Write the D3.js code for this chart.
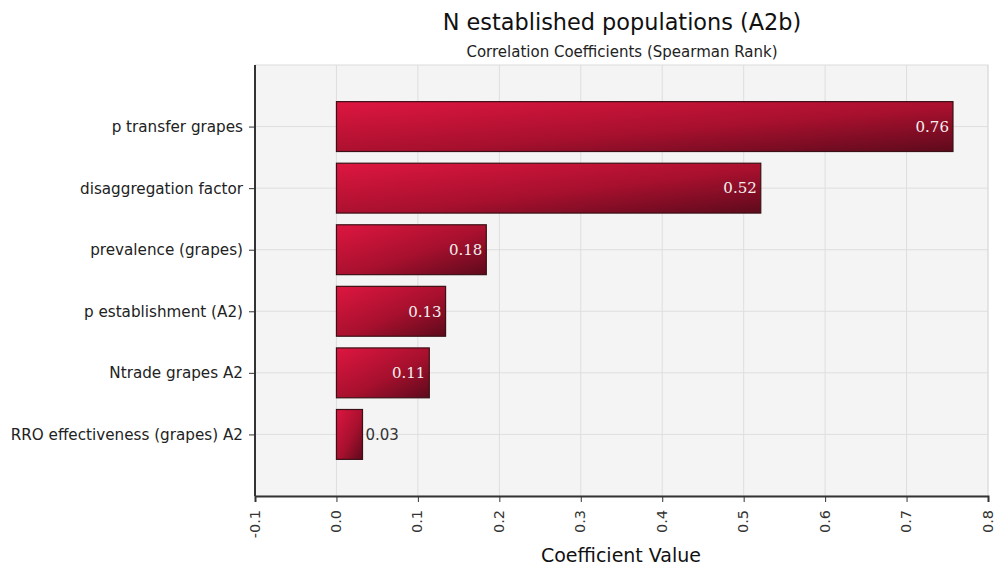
<!DOCTYPE html>
<html>
<head>
<meta charset="utf-8">
<script src="https://cdn.jsdelivr.net/npm/d3@7"></script>
<style>
  body { margin: 0; background: #fff; }
  svg { display: block; }
</style>
</head>
<body>
<svg width="995" height="568"></svg>
<script>
// chart data
var categories = [
    "p transfer grapes",
    "disaggregation factor",
    "prevalence (grapes)",
    "p establishment (A2)",
    "Ntrade grapes A2",
    "RRO effectiveness (grapes) A2"
];
var values = [0.757, 0.521, 0.184, 0.134, 0.114, 0.032];
var xTicks = [-0.1, 0.0, 0.1, 0.2, 0.3, 0.4, 0.5, 0.6, 0.7, 0.8];

var margin = { top: 65, right: 7, bottom: 72, left: 255 };
var width = 995, height = 568;
var sans = "DejaVu Sans, sans-serif";

var svg = d3.select("svg");

// scales
var x = d3.scaleLinear()
    .domain([-0.1, 0.8])
    .range([margin.left, width - margin.right]);

var y = d3.scalePoint()
    .domain(categories)
    .range([margin.top, height - margin.bottom])
    .padding(1);

var barH = y.step() * 0.81;

// gradient for bars
var defs = svg.append("defs");
var grad = defs.append("linearGradient")
    .attr("id", "barGrad")
    .attr("x1", "0").attr("y1", "0")
    .attr("x2", "1").attr("y2", "1");
grad.append("stop").attr("offset", "0%").attr("stop-color", "#de1640");
grad.append("stop").attr("offset", "55%").attr("stop-color", "#a8102e");
grad.append("stop").attr("offset", "100%").attr("stop-color", "#5e0a1c");

// plot background
svg.append("rect")
    .attr("x", margin.left)
    .attr("y", margin.top)
    .attr("width", width - margin.right - margin.left)
    .attr("height", height - margin.bottom - margin.top)
    .attr("fill", "#f4f4f4")
    .attr("stroke", "#dcdcdc");

// grid
svg.append("g")
    .selectAll("line")
    .data(xTicks)
    .enter()
    .append("line")
    .attr("x1", d => x(d)).attr("x2", d => x(d))
    .attr("y1", margin.top).attr("y2", height - margin.bottom)
    .attr("stroke", "#dedede");

svg.append("g")
    .selectAll("line")
    .data(categories)
    .enter()
    .append("line")
    .attr("x1", margin.left).attr("x2", width - margin.right)
    .attr("y1", d => y(d)).attr("y2", d => y(d))
    .attr("stroke", "#dedede");

// bars
svg.append("g")
    .selectAll("rect")
    .data(values)
    .enter()
    .append("rect")
    .attr("x", x(0))
    .attr("y", (d, i) => y(categories[i]) - barH / 2)
    .attr("width", d => x(d) - x(0))
    .attr("height", barH)
    .attr("fill", "url(#barGrad)")
    .attr("stroke", "#3b1016")
    .attr("stroke-width", 1.2);

// value labels
svg.append("g")
    .selectAll("text")
    .data(values)
    .enter()
    .append("text")
    .attr("x", d => d > 0.08 ? x(d) - 4 : x(d) + 3)
    .attr("y", (d, i) => y(categories[i]))
    .attr("dy", "0.35em")
    .attr("text-anchor", d => d > 0.08 ? "end" : "start")
    .attr("fill", d => d > 0.08 ? "#f4f0f0" : "#333")
    .attr("font-family", d => d > 0.08 ? "DejaVu Serif, serif" : sans)
    .attr("font-size", "15px")
    .text(d => d3.format(".2f")(d));

// x axis
var xAxis = svg.append("g")
    .attr("transform", "translate(0," + (height - margin.bottom) + ")")
    .call(d3.axisBottom(x).tickValues(xTicks)
        .tickFormat(d => d3.format(".1f")(d).replace("\u2212", "-"))
        .tickSizeOuter(0).tickSize(6));
xAxis.select(".domain").attr("stroke", "#333").attr("stroke-width", 2);
xAxis.selectAll(".tick line").attr("stroke", "#333");
xAxis.selectAll(".tick text")
    .attr("font-family", sans)
    .attr("font-size", "14.5px")
    .attr("fill", "#333")
    .attr("transform", "rotate(-90)")
    .attr("text-anchor", "end")
    .attr("x", -14)
    .attr("y", -1)
    .attr("dy", "0.35em");

// y axis
var yAxis = svg.append("g")
    .attr("transform", "translate(" + margin.left + ",0)")
    .call(d3.axisLeft(y).tickSizeOuter(0).tickSize(6).tickPadding(6));
yAxis.select(".domain").attr("stroke", "#333").attr("stroke-width", 2)
    .attr("d", "M0," + margin.top + "V" + (height - margin.bottom));
yAxis.selectAll(".tick line").attr("stroke", "#333");
yAxis.selectAll(".tick text")
    .attr("font-family", sans)
    .attr("font-size", "15.2px")
    .attr("fill", "#222");

// titles
svg.append("text")
    .attr("x", 622).attr("y", 30)
    .attr("text-anchor", "middle")
    .attr("font-family", sans)
    .attr("font-size", "22.4px")
    .attr("fill", "#111")
    .text("N established populations (A2b)");

svg.append("text")
    .attr("x", 622).attr("y", 57)
    .attr("text-anchor", "middle")
    .attr("font-family", sans)
    .attr("font-size", "15px")
    .attr("fill", "#222")
    .text("Correlation Coefficients (Spearman Rank)");

svg.append("text")
    .attr("x", 621).attr("y", 562)
    .attr("text-anchor", "middle")
    .attr("font-family", sans)
    .attr("font-size", "19px")
    .attr("fill", "#111")
    .text("Coefficient Value");
</script>
</body>
</html>
